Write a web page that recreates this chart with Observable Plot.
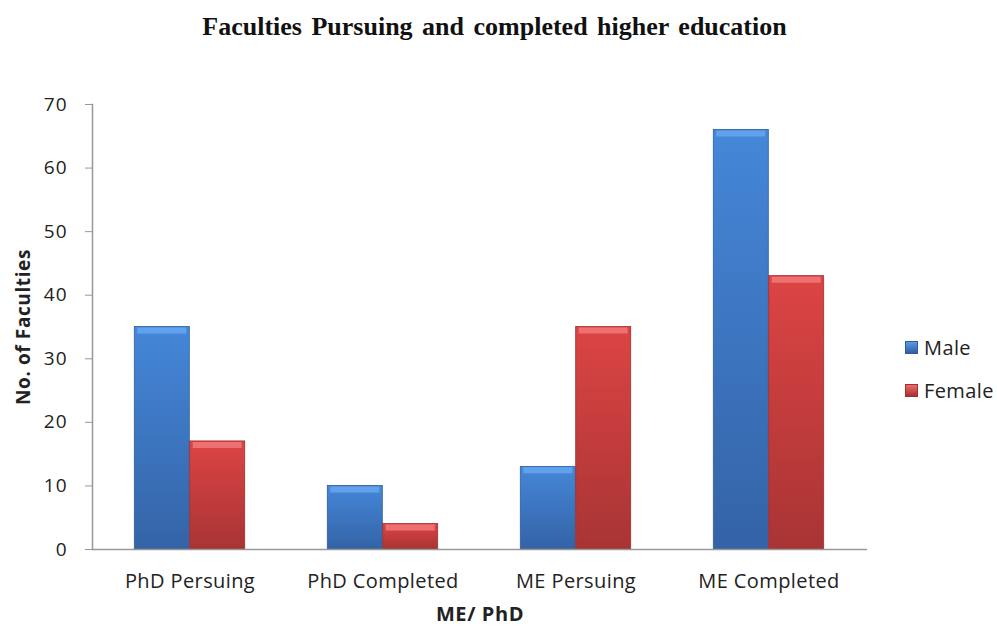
<!DOCTYPE html>
<html><head><meta charset="utf-8">
<script src="https://cdn.jsdelivr.net/npm/d3@7"></script>
<script src="https://cdn.jsdelivr.net/npm/@observablehq/plot@0.6"></script>
<style>
body{margin:0;background:#fff;}
#wrap{position:relative;width:997px;height:628px;overflow:hidden;font-family:"Open Sans",sans-serif;}
#title{height:62px;box-sizing:border-box;padding-top:12px;text-align:center;font-family:"Liberation Serif",serif;font-weight:bold;font-size:26px;color:#111;word-spacing:3px;margin-left:-8px;}
.leg{position:absolute;left:905px;font-size:20px;color:#222;display:flex;align-items:center;letter-spacing:0.4px;}
.leg span.sw{display:inline-block;width:11px;height:11px;margin-right:6px;}
svg text{fill:#222;}
g[aria-label="x-axis label"] text, g[aria-label="y-axis label"] text{font-weight:bold;letter-spacing:0.6px;}
g[aria-label="y-axis tick label"] text{letter-spacing:1px;}
g[aria-label="x-axis tick label"] text{letter-spacing:0.4px;}
</style></head>
<body><div id="wrap"><div id="title">Faculties Pursuing and completed higher education</div>
<div class="leg" style="top:334px"><span class="sw" style="background:linear-gradient(#5b9ae6,#2f5f9f);border:1px solid #2f5c9c;"></span>Male</div>
<div class="leg" style="top:377px"><span class="sw" style="background:linear-gradient(#ef6a6a,#a83030);border:1px solid #9c2f2f;"></span>Female</div>
</div>
<script>
const categories = ["PhD Persuing", "PhD Completed", "ME Persuing", "ME Completed"];
const male = [35, 10, 13, 66];
const female = [17, 4, 35, 43];
const yTicks = [0, 10, 20, 30, 40, 50, 60, 70];

const maleData = categories.map((c, i) => ({category: c, value: male[i]}));
const femaleData = categories.map((c, i) => ({category: c, value: female[i]}));

const half = 27.7;
const plot = Plot.plot({
  width: 997,
  height: 566,
  marginLeft: 92,
  marginRight: 130,
  marginTop: 42,
  marginBottom: 79,
  style: {fontFamily: "Open Sans, sans-serif", fontSize: "19px", background: "#fff"},
  x: {domain: categories, paddingInner: 0.714, paddingOuter: 0.357, label: "ME/ PhD"},
  y: {domain: [0, 70], ticks: yTicks, label: "No. of Faculties"},
  marks: [
    Plot.barY(maleData, {x: "category", y: "value", dx: -half, fill: "url(#gMale)", stroke: "#2f5c9c", strokeWidth: 0.8}),
    Plot.barY(femaleData, {x: "category", y: "value", dx: half, fill: "url(#gFemale)", stroke: "#9c2f2f", strokeWidth: 0.8}),
    Plot.tickY(maleData, {x: "category", y: "value", dx: -half, dy: 3.5, stroke: "#62a2ec", strokeWidth: 6, inset: 3}),
    Plot.tickY(femaleData, {x: "category", y: "value", dx: half, dy: 3.5, stroke: "#ef7070", strokeWidth: 6, inset: 3}),
    Plot.ruleY([0], {stroke: "#999", strokeWidth: 1.5}),
    Plot.frame({anchor: "left", stroke: "#999", strokeWidth: 1.5}),
    Plot.axisY({ticks: yTicks, tickSize: 7, tickPadding: 18, stroke: "#999", label: "No. of Faculties", labelAnchor: "center", labelOffset: 76, labelArrow: "none", fontSize: 19}),
    Plot.axisX({tickSize: 0, tickPadding: 24, label: "ME/ PhD", labelAnchor: "center", labelOffset: 71, labelArrow: "none", fontSize: 20})
  ]
});
const svg = d3.select(plot);
const defs = svg.insert("defs", ":first-child");
const g1 = defs.append("linearGradient").attr("id", "gMale").attr("x1", 0).attr("y1", 0).attr("x2", 0).attr("y2", 1);
g1.append("stop").attr("offset", 0).attr("stop-color", "#4587d9");
g1.append("stop").attr("offset", 1).attr("stop-color", "#3463a6");
const g2 = defs.append("linearGradient").attr("id", "gFemale").attr("x1", 0).attr("y1", 0).attr("x2", 0).attr("y2", 1);
g2.append("stop").attr("offset", 0).attr("stop-color", "#dc4444");
g2.append("stop").attr("offset", 1).attr("stop-color", "#a93434");
document.getElementById("wrap").insertBefore(plot, document.querySelector(".leg"));
</script></body></html>
